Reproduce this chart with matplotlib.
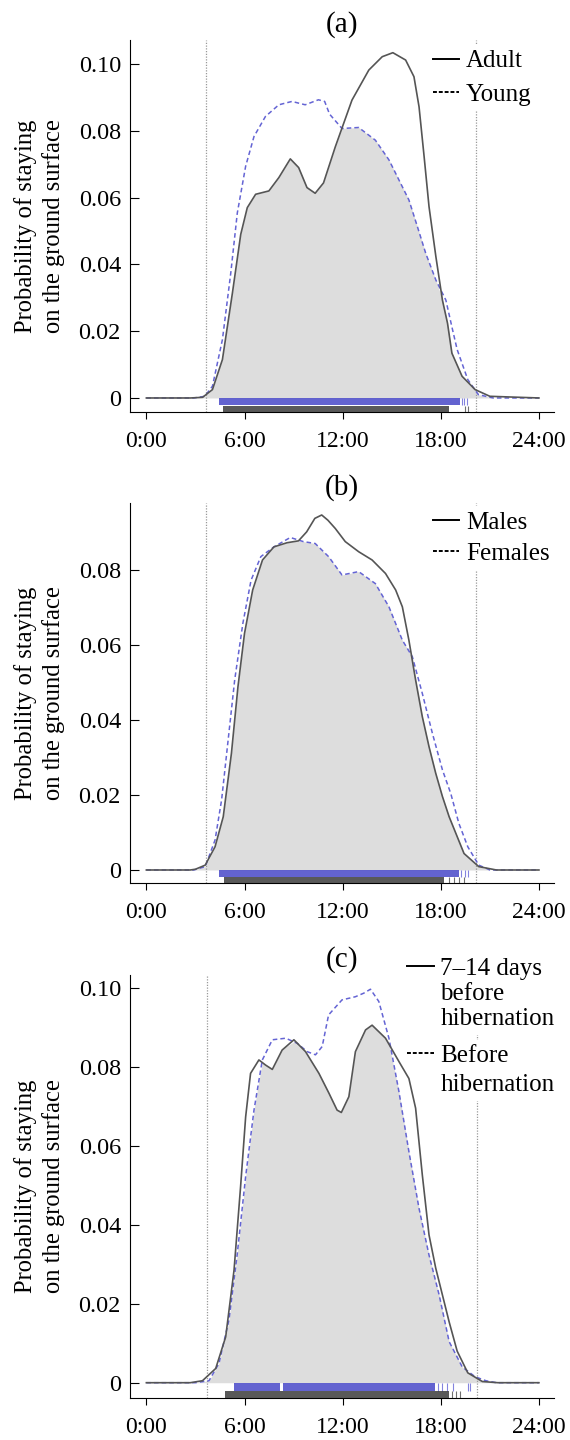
import numpy as np
import matplotlib
matplotlib.use("Agg")
import matplotlib.pyplot as plt
from matplotlib.lines import Line2D

plt.rcParams['font.family'] = ['Liberation Serif', 'DejaVu Serif']
plt.rcParams['font.size'] = 17.5

# ---- data (hours, probability) ----
adult_h = [0, 2.7, 3.44, 4.04, 4.65, 5.26, 5.77, 6.17, 6.68, 7.49, 8.1, 8.8, 9.31, 9.82,
           10.32, 10.83, 11.55, 12.57, 13.6, 14.42, 15.07, 15.85, 16.36, 16.67, 16.98,
           17.28, 17.7, 18.1, 18.41, 18.68, 19.3, 20.1, 21.0, 24]
adult_v = [0, 0, 0.0002, 0.0025, 0.0115, 0.0314, 0.049, 0.057, 0.061, 0.062, 0.066, 0.0716,
           0.069, 0.063, 0.0613, 0.0644, 0.0752, 0.0892, 0.0982, 0.1022, 0.1034, 0.1012,
           0.0962, 0.0872, 0.0723, 0.0573, 0.0423, 0.0293, 0.0224, 0.0134, 0.0065, 0.0025,
           0.0005, 0]
young_h = [0, 2.9, 3.57, 4.04, 4.65, 5.16, 5.56, 6.07, 6.58, 7.28, 8.1, 8.9, 9.71, 10.52,
           10.9, 11.2, 11.96, 12.98, 14.0, 14.83, 15.44, 16.05, 16.57, 17.08, 17.7, 18.31,
           18.72, 19.0, 19.65, 20.3, 21.2, 24]
young_v = [0, 0, 0.0005, 0.0035, 0.0175, 0.0374, 0.0554, 0.0694, 0.0783, 0.0843, 0.0878,
           0.0888, 0.0878, 0.0893, 0.0888, 0.085, 0.0807, 0.081, 0.0772, 0.0713, 0.0653,
           0.0593, 0.0513, 0.0433, 0.0353, 0.0293, 0.0204, 0.0145, 0.0055, 0.001, 0, 0]

males_h = [0, 2.68, 3.0, 3.6, 4.2, 4.7, 5.2, 5.6, 6.0, 6.5, 7.1, 7.8, 8.6, 9.3, 9.8, 10.3,
           10.72, 11.1, 11.55, 12.16, 12.98, 13.8, 14.62, 15.24, 15.65, 16.05, 16.46,
           16.87, 17.28, 17.69, 18.1, 18.51, 19.42, 20.32, 21.4, 24]
males_v = [0, 0, 0.0002, 0.0013, 0.0062, 0.0142, 0.0311, 0.0489, 0.0631, 0.0747, 0.0827,
           0.0862, 0.0873, 0.0878, 0.0902, 0.0938, 0.0947, 0.0933, 0.0911, 0.0876, 0.0849,
           0.0827, 0.0791, 0.0747, 0.0702, 0.0613, 0.0507, 0.0409, 0.0329, 0.0258, 0.0196,
           0.0142, 0.0044, 0.0009, 0, 0]
females_h = [0, 2.9, 3.6, 4.2, 4.6, 5.0, 5.4, 5.9, 6.4, 7.0, 7.8, 8.8, 9.6, 10.32, 11.14,
             11.96, 12.98, 14.0, 14.83, 15.65, 16.26, 16.87, 17.49, 18.1, 18.61, 19.1,
             19.65, 20.32, 21.0, 24]
females_v = [0, 0, 0.0009, 0.008, 0.0187, 0.0347, 0.0507, 0.0658, 0.0773, 0.0836, 0.0862,
             0.0887, 0.0876, 0.0871, 0.0836, 0.0787, 0.0796, 0.0764, 0.0702, 0.0613, 0.0569,
             0.0471, 0.0364, 0.0267, 0.0204, 0.0125, 0.0062, 0.0013, 0, 0]

d714_h = [0, 2.68, 3.43, 4.24, 4.85, 5.36, 5.76, 6.07, 6.37, 6.88, 7.29, 7.7, 8.3, 9.02,
          9.73, 10.55, 11.16, 11.66, 11.92, 12.38, 12.78, 13.4, 13.8, 14.62, 15.44, 16.05,
          16.46, 16.87, 17.28, 17.69, 18.1, 18.51, 19.0, 19.65, 20.54, 21.5, 24]
d714_v = [0, 0, 0.0005, 0.0036, 0.0116, 0.0285, 0.0496, 0.0673, 0.0783, 0.0817, 0.0804,
          0.0793, 0.0842, 0.0868, 0.0838, 0.0783, 0.0733, 0.069, 0.0684, 0.0724, 0.0838,
          0.0893, 0.0905, 0.0872, 0.0813, 0.077, 0.0695, 0.0526, 0.0374, 0.029, 0.0222,
          0.0154, 0.008, 0.0025, 0.0003, 0, 0]
before_h = [0, 3.0, 3.83, 4.44, 5.05, 5.56, 6.07, 6.58, 7.09, 7.7, 8.52, 9.23, 9.83, 10.34,
            10.75, 11.14, 11.96, 12.78, 13.29, 13.7, 14.21, 14.83, 15.44, 16.05, 16.67,
            17.28, 17.9, 18.51, 19.31, 20.1, 20.76, 21.4, 24]
before_v = [0, 0, 0.0005, 0.0049, 0.0159, 0.0327, 0.0522, 0.069, 0.0817, 0.0868, 0.0872,
            0.0859, 0.0838, 0.083, 0.0851, 0.0931, 0.0969, 0.0977, 0.0986, 0.0996, 0.0965,
            0.0872, 0.0737, 0.0585, 0.0441, 0.0323, 0.0222, 0.0104, 0.004, 0.0015, 0.0005,
            0, 0]

# rug extents: dense (start, end) spans and isolated observation times
rug_blue = [[(4.47, 19.2)], [(4.47, 19.09)], [(5.36, 8.2), (8.35, 17.64)]]
rug_blue_pts = [[19.3, 19.4, 19.6], [19.25, 19.45, 19.65],
                [17.8, 18.1, 18.4, 18.75, 19.65, 19.76]]
rug_black = [[(4.69, 18.53)], [(4.73, 18.2)], [(4.8, 18.53)]]
rug_black_pts = [[19.47, 19.65], [18.5, 18.8, 19.1, 19.4], [18.7, 18.9, 19.15]]

sunrise = [3.66, 3.64, 3.7]
sunset = [20.15, 20.14, 20.2]

titles = ['(a)', '(b)', '(c)']
# each panel: list of legend blocks, each block a list of (text, style)
legend_blocks = [
    [[('Adult', '-'), ('Young', '--')]],
    [[('Males', '-'), ('Females', '--')]],
    [[('7\u201314 days', '-'), ('before', None), ('hibernation', None)],
     [('Before', '--'), ('hibernation', None)]],
]
solid = [(adult_h, adult_v), (males_h, males_v), (d714_h, d714_v)]
dashed = [(young_h, young_v), (females_h, females_v), (before_h, before_v)]

yticks = [[0, 0.02, 0.04, 0.06, 0.08, 0.10], [0, 0.02, 0.04, 0.06, 0.08],
          [0, 0.02, 0.04, 0.06, 0.08, 0.10]]
ytick_labels = [['0', '0.02', '0.04', '0.06', '0.08', '0.10'],
                ['0', '0.02', '0.04', '0.06', '0.08'],
                ['0', '0.02', '0.04', '0.06', '0.08', '0.10']]
xticks = [0, 6, 12, 18, 24]
xtick_labels = ['0:00', '6:00', '12:00', '18:00', '24:00']

# layout (pixels) and limits
W, H = 570, 1440
AX_L, AX_R = 130, 553.5
boxes = [(40, 412), (503, 883), (975, 1398)]
ylims = [(-0.0042, 0.1072), (-0.00347, 0.0979), (-0.00387, 0.1032)]
leg_anchor = [[(0.703, 0.987)], [(0.703, 0.992)], [(0.643, 1.053), (0.643, 0.8475)]]
leg_spacing = [[0.43], [0.36], [0.1, 0.24]]

fig = plt.figure(figsize=(W / 100, H / 100), dpi=100)

solid_c = '#555555'
dash_c = '#6464d4'
fill_c = '#dddddd'

for i in range(3):
    top, bot = boxes[i]
    ax = fig.add_axes([AX_L / W, 1 - bot / H, (AX_R - AX_L) / W, (bot - top) / H])
    ax.set_xlim(-1.0, 24.89)
    ax.set_ylim(*ylims[i])
    y0, y1 = ylims[i]

    sh, sv = solid[i]
    dh, dv = dashed[i]
    grid = np.union1d(sh, dh)
    lo = np.minimum(np.interp(grid, sh, sv), np.interp(grid, dh, dv))
    ax.fill_between(grid, 0, lo, color=fill_c, lw=0, zorder=1)

    # curves sit above the white legend boxes, the dotted lines below them
    ax.plot(dh, dv, color=dash_c, lw=1.1, ls=(0, (3, 2)), zorder=12)
    ax.plot(sh, sv, color=solid_c, lw=1.2, zorder=13)

    for xv in (sunrise[i], sunset[i]):
        ax.axvline(xv, color='#999999', lw=0.9, ls=(0, (1, 1.2)), zorder=2)

    # rugs
    bh = 0.52 * (-y0)
    segs = [(a, b - a) for a, b in rug_blue[i]]
    ax.broken_barh(segs, (-bh, bh), facecolor='#4848c8', alpha=0.85, lw=0, zorder=5)
    ax.vlines(rug_blue_pts[i], -bh, 0, color='#5050d0', lw=0.8, alpha=0.7, zorder=5)
    segs = [(a, b - a) for a, b in rug_black[i]]
    ax.broken_barh(segs, (y0, bh * 0.85), facecolor='#222222', alpha=0.75, lw=0, zorder=5)
    ax.vlines(rug_black_pts[i], y0, y0 + bh * 0.85, color='#333333', lw=0.8, alpha=0.7,
              zorder=5)

    ax.set_xticks(xticks)
    ax.set_xticklabels(xtick_labels, fontsize=17)
    ax.set_yticks(yticks[i])
    ax.set_yticklabels(ytick_labels[i], fontsize=17.5)
    ax.tick_params(axis='y', direction='in', length=6.5, width=0.8, pad=6.5)
    ax.tick_params(axis='x', direction='out', length=5, width=0.8, pad=9)
    for s in ('top', 'right'):
        ax.spines[s].set_visible(False)
    ax.set_ylabel('Probability of staying\non the ground surface', labelpad=10,
                  linespacing=1.25, fontsize=17.7)
    ax.set_title(titles[i], pad=6)

    for b, block in enumerate(legend_blocks[i]):
        handles, names = [], []
        for name, style in block:
            if style is None:
                handles.append(Line2D([], [], color='none'))
            else:
                handles.append(Line2D([], [], color='black', lw=1.4,
                                      ls='-' if style == '-' else (0, (2, 1))))
            names.append(name)
        leg = ax.legend(handles, names, loc='upper left', bbox_to_anchor=leg_anchor[i][b],
                        frameon=True, facecolor='white', edgecolor='none', framealpha=1,
                        handlelength=1.05, handletextpad=0.27, borderaxespad=0,
                        borderpad=0.2, labelspacing=leg_spacing[i][b], fontsize=18)
        leg.set_zorder(10)
        if b < len(legend_blocks[i]) - 1:
            ax.add_artist(leg)

fig.savefig('out.png', dpi=100)
